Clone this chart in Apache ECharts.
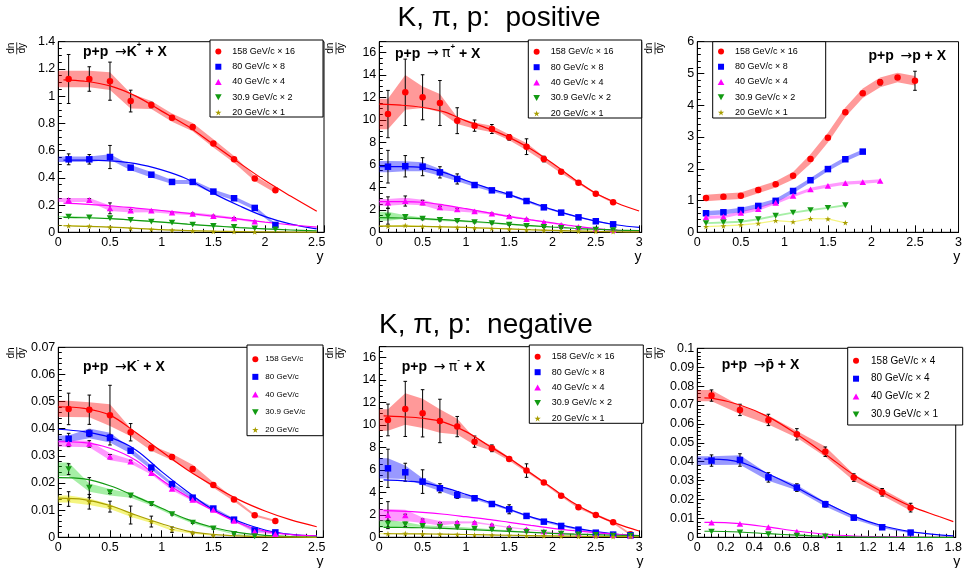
<!DOCTYPE html>
<html><head><meta charset="utf-8">
<script src="https://cdn.jsdelivr.net/npm/echarts@6/dist/echarts.min.js"></script>
<style>html,body{margin:0;padding:0;background:#fff}#c{width:965px;height:568px}</style>
</head><body><div id="c"></div><script>
// ---------- Panel 1: p+p -> K+ + X ----------
const kpX = [0.1,0.3,0.5,0.7,0.9,1.1,1.3,1.5,1.7,1.9,2.1];
const kpX10 = [0.1,0.3,0.5,0.7,0.9,1.1,1.3,1.5,1.7,1.9];
const kpFitX = [0.05,0.25,0.5,0.75,1,1.25,1.5,1.75,2,2.25,2.5];
const kp158 = [1.126,1.126,1.11,0.964,0.935,0.842,0.773,0.653,0.536,0.396,0.308];
const kp158Err = [0.18,0.09,0.14,0.08,0.02,0.015,0.015,0.012,0.01,0.01,0.01];
const kp158Band = [0.06,0.06,0.065,0.055,0.03,0.03,0.03,0.03,0.025,0.02,0.02];
const kp158Fit = [1.12,1.11,1.075,1.0,0.89,0.78,0.645,0.51,0.38,0.265,0.155];
const kp80 = [0.536,0.536,0.553,0.475,0.423,0.37,0.37,0.299,0.25,0.179,0.054];
const kp80Err = [0.04,0.035,0.085,0.01,0.01,0.01,0.01,0.005,0.005,0.005,0.005];
const kp80Band = [0.02,0.02,0.02,0.02,0.02,0.015,0.015,0.015,0.015,0.015,0.01];
const kp80Fit = [0.53,0.53,0.525,0.505,0.458,0.39,0.286,0.195,0.115,0.06,0.025];
const kp40 = [0.237,0.237,0.176,0.16,0.159,0.144,0.136,0.12,0.103,0.078];
const kp40Err = [0.01,0.01,0.04,0.008,0.005,0.005,0.005,0.005,0.005,0.005];
const kp40Band = [0.015,0.015,0.02,0.015,0.012,0.01,0.01,0.01,0.008,0.008];
const kp40Fit = [0.215,0.207,0.195,0.178,0.16,0.14,0.118,0.097,0.075,0.055,0.038];
const kp31 = [0.115,0.11,0.103,0.09,0.078,0.071,0.056,0.046,0.039,0.029,0.022];
const kp31Band = [0.004,0.004,0.004,0.004,0.004,0.004,0.004,0.004,0.004,0.004,0.004];
const kp31Fit = [0.11,0.107,0.1,0.088,0.075,0.06,0.047,0.035,0.025,0.017,0.01];
const kp20 = [0.049,0.046,0.037,0.029,0.022,0.015,0.01,0.007,0.005,0.003];
const kp20Band = [0.002,0.002,0.002,0.002,0.002,0.002,0.002,0.002,0.002,0.002];
const kp20Fit = [0.048,0.044,0.038,0.029,0.019,0.013,0.008,0.005,0.003,0.002,0.001];

// ---------- Panel 2: p+p -> pi+ + X ----------
const ppX = [0.1,0.3,0.5,0.7,0.9,1.1,1.3,1.5,1.7,1.9,2.1,2.3,2.5,2.7];
const ppFitX = [0,0.25,0.5,0.75,1,1.25,1.5,1.75,2,2.25,2.5,2.75,3];
const pp158 = [10.51,12.44,12.0,11.49,9.92,9.48,9.18,8.44,7.61,6.51,5.39,4.41,3.43,2.67];
const pp158Err = [2.1,2.95,2.0,2.0,1.15,0.5,0.4,0.25,0.7,0.25,0.1,0.1,0.1,0.1];
const pp158Band = [1.35,1.55,0.95,0.8,0.3,0.28,0.28,0.25,0.32,0.22,0.15,0.12,0.08,0.08];
const pp158Fit = [11.4,11.3,11.1,10.7,9.9,9.24,8.44,7.4,6.13,4.72,3.47,2.58,1.89];
const pp80 = [5.83,5.87,5.83,5.33,4.74,4.2,3.73,3.35,2.78,2.22,1.75,1.33,0.98,0.71];
const pp80Err = [1.45,0.95,0.8,0.5,0.45,0.15,0.1,0.1,0.1,0.1,0.05,0.05,0.05,0.05];
const pp80Band = [0.5,0.45,0.4,0.3,0.2,0.15,0.12,0.1,0.1,0.08,0.06,0.05,0.05,0.05];
const pp80Fit = [5.83,5.83,5.75,5.3,4.6,3.95,3.35,2.68,2.02,1.46,1.0,0.65,0.44];
const pp40 = [2.65,2.78,2.65,2.22,2.04,1.86,1.66,1.43,1.18,0.89,0.66,0.47,0.31,0.19];
const pp40Err = [0.5,0.45,0.2,0.1,0.1,0.05,0.05,0.05,0.05,0.05,0.05,0.05,0.05,0.05];
const pp40Band = [0.3,0.3,0.25,0.25,0.2,0.12,0.1,0.08,0.06,0.05,0.04,0.03,0.03,0.02];
const pp40Fit = [2.72,2.72,2.67,2.42,2.1,1.75,1.39,1.1,0.83,0.56,0.33,0.18,0.1];
const pp31 = [1.42,1.36,1.21,1.09,1.0,0.89,0.8,0.68,0.56,0.47,0.38,0.29,0.23,0.18];
const pp31Err = [0.7,0.2,0.1,0.08,0.05,0.05,0.05,0.05,0.05,0.05,0.05,0.05,0.05,0.05];
const pp31Band = [0.4,0.15,0.1,0.08,0.06,0.05,0.05,0.04,0.04,0.03,0.03,0.03,0.03,0.03];
const pp31Fit = [1.3,1.27,1.22,1.12,1.0,0.87,0.73,0.6,0.47,0.36,0.27,0.2,0.15];
const pp20 = [0.55,0.62,0.52,0.48,0.44,0.38,0.33,0.27,0.21,0.16,0.12,0.09,0.07,0.05];
const pp20Band = [0.05,0.05,0.04,0.04,0.03,0.03,0.03,0.02,0.02,0.02,0.02,0.02,0.02,0.02];
const pp20Fit = [0.55,0.54,0.52,0.48,0.43,0.37,0.3,0.23,0.17,0.12,0.08,0.05,0.03];

// ---------- Panel 3: p+p -> p + X ----------
const pr158X = [0.1,0.3,0.5,0.7,0.9,1.1,1.3,1.5,1.7,1.9,2.1,2.3,2.5];
const pr158 = [1.08,1.12,1.15,1.33,1.51,1.78,2.31,2.98,3.78,4.38,4.72,4.87,4.77];
const pr158Err = [0.05,0.05,0,0,0,0,0,0,0,0,0.08,0.03,0.3];
const pr158Band = [0.1,0.1,0.1,0.1,0.1,0.12,0.15,0.15,0.15,0.15,0.15,0.15,0.15];
const pr80X = [0.1,0.3,0.5,0.7,0.9,1.1,1.3,1.5,1.7,1.9];
const pr80 = [0.6,0.63,0.7,0.83,0.99,1.3,1.64,1.99,2.3,2.54];
const pr80Band = [0.07,0.07,0.07,0.07,0.07,0.07,0.07,0.07,0.07,0.07];
const pr40X = [0.1,0.3,0.5,0.7,0.9,1.1,1.3,1.5,1.7,1.9,2.1];
const pr40 = [0.47,0.49,0.61,0.73,0.93,1.15,1.35,1.46,1.55,1.58,1.62];
const pr40Band = [0.05,0.05,0.05,0.05,0.05,0.05,0.05,0.05,0.05,0.05,0.05];
const pr31X = [0.1,0.3,0.5,0.7,0.9,1.1,1.3,1.5,1.7];
const pr31 = [0.29,0.31,0.33,0.41,0.52,0.62,0.70,0.77,0.85];
const pr31Band = [0.03,0.03,0.03,0.03,0.03,0.03,0.03,0.03,0.03];
const pr20 = [0.18,0.2,0.23,0.28,0.37,0.33,0.43,0.42,0.30];
const pr20Band = [0.02,0.02,0.02,0.02,0.02,0.02,0.02,0.02,0.02];

// ---------- Panel 4: p+p -> K- + X ----------
const kmX = [0.1,0.3,0.5,0.7,0.9,1.1,1.3,1.5,1.7,1.9,2.1];
const kmFitX = [0,0.25,0.5,0.75,1,1.25,1.5,1.75,2,2.25,2.5];
const km158 = [0.0473,0.047,0.045,0.0387,0.0329,0.0296,0.0252,0.0193,0.0139,0.0081,0.006];
const km158Err = [0.0058,0.0054,0.011,0.0032,0.001,0.0008,0.0008,0.0006,0.0004,0.0003,0.0003];
const km158Band = [0.003,0.0028,0.004,0.0015,0.001,0.0012,0.0015,0.001,0.0006,0.0004,0.0004];
const km158Fit = [0.0481,0.0475,0.045,0.0386,0.0316,0.0248,0.019,0.0138,0.0097,0.0064,0.0039];
const km80 = [0.0363,0.0383,0.0367,0.0319,0.0257,0.0196,0.0146,0.0106,0.0065,0.0025,0.0018];
const km80Err = [0.002,0.0012,0.001,0.0005,0.0005,0.0004,0.0003,0.0003,0.0003,0.0003,0.0003];
const km80Band = [0.0012,0.0018,0.0018,0.001,0.0008,0.0006,0.0005,0.0005,0.0004,0.0003,0.0003];
const km80Fit = [0.0398,0.0389,0.0368,0.0322,0.0242,0.0168,0.0101,0.0058,0.0027,0.0011,0.0005];
const km40 = [0.0346,0.0344,0.0297,0.0279,0.0237,0.0179,0.0138,0.0101,0.0061,0.0021,0.0012];
const km40Err = [0.0012,0.0012,0.0008,0.0005,0.0005,0.0004,0.0003,0.0003,0.0003,0.0003,0.0003];
const km40Band = [0.0012,0.0012,0.0013,0.0008,0.0006,0.0006,0.0005,0.0004,0.0003,0.0003,0.0002];
const km40Fit = [0.0352,0.0349,0.0328,0.0284,0.0211,0.015,0.0098,0.0052,0.0023,0.001,0.0005];
const km31X = [0.1,0.3,0.5,0.7,0.9,1.1,1.3,1.5,1.7,1.9];
const km31 = [0.0251,0.0183,0.0166,0.0154,0.0123,0.0085,0.0054,0.0033,0.0012,0.0004];
const km31Err = [0.002,0.0037,0.0005,0.0005,0.0005,0.0003,0.0003,0.0003,0.0003,0.0003];
const km31Band = [0.0025,0.0015,0.0012,0.0008,0.0006,0.0004,0.0003,0.0003,0.0002,0.0002];
const km31Fit = [0.022,0.0215,0.019,0.015,0.0107,0.0066,0.0036,0.0017,0.0007,0.0003,0.0001];
const km20X = [0.1,0.3,0.5,0.7,0.9,1.1,1.3,1.5];
const km20 = [0.0141,0.0131,0.0113,0.0082,0.0058,0.0028,0.0016,0.0008];
const km20Err = [0.0027,0.0027,0.002,0.0033,0.002,0.001,0.0003,0.0002];
const km20Band = [0.0013,0.0012,0.0009,0.0006,0.0005,0.0004,0.0003,0.0002];
const km20Fit = [0.0144,0.0139,0.0117,0.0082,0.005,0.0023,0.0011,0.0005,0.0002,0.0001,0];

// ---------- Panel 5: p+p -> pi- + X ----------
const pmX = [0.1,0.3,0.5,0.7,0.9,1.1,1.3,1.5,1.7,1.9,2.1,2.3,2.5,2.7,2.9];
const pmFitX = [0.05,0.25,0.5,0.75,1,1.25,1.5,1.75,2,2.25,2.5,2.75,3];
const pm158 = [10.43,11.41,11.02,10.34,9.84,8.5,7.91,6.96,5.93,4.86,3.7,2.67,1.99,1.33,0.27];
const pm158Err = [1.41,2.45,2.1,1.93,0.9,0.5,0.3,0.1,0.6,0.1,0.1,0.1,0.1,0.1,0.1];
const pm158Band = [0.95,1.4,1.3,1.05,0.7,0.3,0.25,0.15,0.15,0.1,0.1,0.1,0.1,0.1,0.1];
const pm158Fit = [10.79,10.72,10.58,10.22,9.39,8.21,7.02,5.69,4.36,3.02,1.99,1.19,0.56];
const pm80 = [6.13,5.78,4.95,4.36,3.76,3.47,2.96,2.49,1.9,1.39,1.01,0.68,0.41,0.24,0.18];
const pm80Err = [1.7,0.8,1.05,0.4,0.3,0.1,0.1,0.4,0.1,0.05,0.05,0.05,0.05,0.05,0.05];
const pm80Band = [0.9,0.6,0.3,0.25,0.2,0.1,0.1,0.1,0.08,0.06,0.05,0.05,0.05,0.04,0.04];
const pm80Fit = [5.1,5.04,4.86,4.41,3.82,3.17,2.49,1.81,1.3,0.83,0.5,0.27,0.12];
const pm40 = [1.97,1.95,1.52,1.24,1.33,1.32,1.11,0.88,0.7,0.53,0.4,0.3,0.24,0.2,0.16];
const pm40Err = [1.2,0.1,0.1,0.08,0.05,0.05,0.05,0.05,0.05,0.05,0.05,0.05,0.05,0.05,0.05];
const pm40Band = [0.55,0.5,0.25,0.2,0.1,0.08,0.06,0.05,0.05,0.04,0.03,0.03,0.03,0.02,0.02];
const pm40Fit = [2.37,2.33,2.22,2.05,1.83,1.6,1.33,1.06,0.8,0.59,0.41,0.26,0.15];
const pm31 = [1.21,1.15,1.0,0.94,0.89,0.77,0.68,0.59,0.47,0.41,0.32,0.26,0.2,0.15,0.15];
const pm31Err = [0.3,0.2,0.05,0.05,0.05,0.05,0.05,0.05,0.05,0.05,0.05,0.05,0.05,0.05,0.05];
const pm31Band = [0.33,0.2,0.08,0.06,0.05,0.05,0.04,0.04,0.03,0.03,0.03,0.03,0.03,0.03,0.03];
const pm31Fit = [0.89,0.88,0.85,0.79,0.71,0.62,0.53,0.44,0.35,0.28,0.23,0.18,0.15];
const pm20 = [0.32,0.35,0.3,0.27,0.25,0.22,0.2,0.17,0.14,0.12,0.1,0.08,0.07,0.06,0.05];
const pm20Band = [0.04,0.04,0.03,0.03,0.03,0.02,0.02,0.02,0.02,0.02,0.02,0.02,0.02,0.02,0.02];
const pm20Fit = [0.32,0.31,0.3,0.28,0.25,0.22,0.18,0.15,0.12,0.1,0.08,0.06,0.05];

// ---------- Panel 6: p+p -> pbar + X ----------
const pbX = [0.1,0.3,0.5,0.7,0.9,1.1,1.3,1.5];
const pbX5 = [0.1,0.3,0.5,0.7,0.9];
const pbFitX = [0.05,0.1,0.3,0.5,0.7,0.9,1.1,1.3,1.5,1.7,1.8];
const pb158 = [0.075,0.0674,0.0621,0.0545,0.0453,0.0316,0.0238,0.0157];
const pb158Err = [0.003,0.003,0.003,0.003,0.0025,0.002,0.002,0.0023];
const pb158Band = [0.003,0.0022,0.0024,0.0018,0.0027,0.0017,0.0017,0.0017];
const pb158Fit = [0.0738,0.0736,0.07,0.0637,0.0545,0.044,0.033,0.024,0.0165,0.011,0.0083];
const pb80 = [0.0406,0.0409,0.0317,0.0263,0.0175,0.0104,0.0053,0.0025];
const pb80Err = [0.003,0.0033,0.0025,0.002,0.0015,0.0013,0.0005,0.0005];
const pb80Band = [0.0023,0.0025,0.0018,0.0014,0.0012,0.0008,0.0005,0.0004];
const pb80Fit = [0.0414,0.0414,0.0398,0.0335,0.0262,0.0183,0.0112,0.0061,0.003,0.0013,0.0008];
const pb40 = [0.0078,0.0071,0.0053,0.003,0.0011];
const pb40Fit = [0.0079,0.0079,0.0072,0.0054,0.0033,0.0016,0.0007,0.0003,0.0001,0,0];
const pb31 = [0.003,0.0026,0.0016,0.0009,0.0004];
const pb31Fit = [0.0032,0.0032,0.0028,0.0019,0.0011,0.0005,0.0002,0.0001,0,0,0];

// legend labels
const namesX16 = ['158 GeV/c × 16','80 GeV/c × 8','40 GeV/c × 4','30.9 GeV/c × 2','20 GeV/c × 1'];
const namesKm = ['158 GeV/c','80 GeV/c','40 GeV/c','30.9 GeV/c','20 GeV/c'];
const namesPb = ['158 GeV/c × 4','80 GeV/c × 4','40 GeV/c × 2','30.9 GeV/c × 1'];

// ---------- styles ----------
const FONT = '"Liberation Sans", Arial, sans-serif';
const STAR = 'path://M50,0 L61,35 L98,35 L68,57 L79,91 L50,70 L21,91 L32,57 L2,35 L39,35 Z';
const INV = 'path://M0,0 L10,0 L5,9 Z';
const TRI = 'path://M5,0 L10,9 L0,9 Z';
const SQ = 'path://M0,0 L10,0 L10,10 L0,10 Z';
const COL = {158:'#ff0000',80:'#0000ff',40:'#ff00ff',31:'#129a12',20:'#a89e00'};
const BAND = {158:'rgba(255,0,0,0.4)',80:'rgba(0,0,255,0.4)',40:'rgba(255,0,255,0.4)',31:'rgba(0,210,0,0.35)',20:'rgba(235,235,0,0.5)'};
const SYM = {158:'circle',80:SQ,40:TRI,31:INV,20:STAR};
const SIZE = {158:6.5,80:6.5,40:6.5,31:6.5,20:6};

const panels = [
 {grid:[58.3,41.7,265.7,190.6], x:{max:2.57,int:0.5,minor:5}, y:{max:1.4,int:0.2,minor:4}, band0:true,
  sets:[
   {k:158,name:namesX16[0],x:kpX,y:kp158,err:kp158Err,band:kp158Band,fx:kpFitX,fy:kp158Fit},
   {k:80,name:namesX16[1],x:kpX,y:kp80,err:kp80Err,band:kp80Band,fx:kpFitX,fy:kp80Fit},
   {k:40,name:namesX16[2],x:kpX10,y:kp40,err:kp40Err,band:kp40Band,fx:kpFitX,fy:kp40Fit},
   {k:31,name:namesX16[3],x:kpX,y:kp31,band:kp31Band,fx:kpFitX,fy:kp31Fit},
   {k:20,name:namesX16[4],x:kpX10,y:kp20,band:kp20Band,fx:kpFitX,fy:kp20Fit}],
  legend:{box:[210,40,113,77],names:namesX16,padTop:6,gap:4.25,iw:18,padL:5,fs:9}},
 {grid:[379.3,41.7,262.4,190.6], x:{max:3.03,int:0.5,minor:5}, y:{max:16.94,int:2,minor:4}, band0:true,
  sets:[
   {k:158,name:namesX16[0],x:ppX,y:pp158,err:pp158Err,band:pp158Band,fx:ppFitX,fy:pp158Fit},
   {k:80,name:namesX16[1],x:ppX,y:pp80,err:pp80Err,band:pp80Band,fx:ppFitX,fy:pp80Fit},
   {k:40,name:namesX16[2],x:ppX,y:pp40,err:pp40Err,band:pp40Band,fx:ppFitX,fy:pp40Fit},
   {k:31,name:namesX16[3],x:ppX,y:pp31,err:pp31Err,band:pp31Band,fx:ppFitX,fy:pp31Fit},
   {k:20,name:namesX16[4],x:ppX,y:pp20,band:pp20Band,fx:ppFitX,fy:pp20Fit}],
  legend:{box:[528.3,40,113.4,78],names:namesX16,padTop:6.3,gap:4.4,iw:18,padL:5,fs:9}},
 {grid:[697.3,41.7,262.7,190.6], x:{max:3,int:0.5,minor:5}, y:{max:6,int:1,minor:5}, band0:false,
  sets:[
   {k:158,name:namesX16[0],x:pr158X,y:pr158,err:pr158Err,band:pr158Band},
   {k:80,name:namesX16[1],x:pr80X,y:pr80,band:pr80Band},
   {k:40,name:namesX16[2],x:pr40X,y:pr40,band:pr40Band},
   {k:31,name:namesX16[3],x:pr31X,y:pr31,band:pr31Band},
   {k:20,name:namesX16[4],x:pr31X,y:pr20,band:pr20Band}],
  legend:{box:[712.7,41.7,113,76.3],names:namesX16,padTop:4.3,gap:4.25,iw:18,padL:5,fs:9}},
 {grid:[58.3,347.3,265,190], x:{max:2.564,int:0.5,minor:5}, y:{max:0.07,int:0.01,minor:5}, band0:true,
  sets:[
   {k:158,name:namesKm[0],x:kmX,y:km158,err:km158Err,band:km158Band,fx:kmFitX,fy:km158Fit},
   {k:80,name:namesKm[1],x:kmX,y:km80,err:km80Err,band:km80Band,fx:kmFitX,fy:km80Fit},
   {k:40,name:namesKm[2],x:kmX,y:km40,err:km40Err,band:km40Band,fx:kmFitX,fy:km40Fit},
   {k:31,name:namesKm[3],x:km31X,y:km31,err:km31Err,band:km31Band,fx:kmFitX,fy:km31Fit},
   {k:20,name:namesKm[4],x:km20X,y:km20,err:km20Err,band:km20Band,fx:kmFitX,fy:km20Fit}],
  legend:{box:[247,345,76,90.7],names:namesKm,padTop:8.7,gap:6.65,iw:10,padL:5,fs:8}},
 {grid:[379.3,346.7,262.4,190.6], x:{max:3.03,int:0.5,minor:5}, y:{max:16.94,int:2,minor:4}, band0:true,
  sets:[
   {k:158,name:namesX16[0],x:pmX,y:pm158,err:pm158Err,band:pm158Band,fx:pmFitX,fy:pm158Fit},
   {k:80,name:namesX16[1],x:pmX,y:pm80,err:pm80Err,band:pm80Band,fx:pmFitX,fy:pm80Fit},
   {k:40,name:namesX16[2],x:pmX,y:pm40,err:pm40Err,band:pm40Band,fx:pmFitX,fy:pm40Fit},
   {k:31,name:namesX16[3],x:pmX,y:pm31,err:pm31Err,band:pm31Band,fx:pmFitX,fy:pm31Fit},
   {k:20,name:namesX16[4],x:pmX,y:pm20,band:pm20Band,fx:pmFitX,fy:pm20Fit}],
  legend:{box:[529.3,345,114,78.3],names:namesX16,padTop:6.3,gap:4.4,iw:18,padL:5,fs:9}},
 {grid:[697.3,348.3,263.4,189], x:{max:1.817,int:0.2,minor:4}, y:{max:0.1,int:0.01,minor:5}, band0:true,
  sets:[
   {k:158,name:namesPb[0],x:pbX,y:pb158,err:pb158Err,band:pb158Band,fx:pbFitX,fy:pb158Fit},
   {k:80,name:namesPb[1],x:pbX,y:pb80,err:pb80Err,band:pb80Band,fx:pbFitX,fy:pb80Fit},
   {k:40,name:namesPb[2],x:pbX5,y:pb40,fx:pbFitX,fy:pb40Fit},
   {k:31,name:namesPb[3],x:pbX5,y:pb31,fx:pbFitX,fy:pb31Fit}],
  legend:{box:[847.7,347.3,115,77.7],names:namesPb,padTop:8,gap:6.9,iw:20,padL:5,fs:10}}
];

function fmt(v, int){ const r = v/int; return Math.abs(r-Math.round(r))<1e-6 ? String(+v.toFixed(6)) : ''; }
function axisCfg(i, a, isX){
  return {type:'value', gridIndex:i, min:0, max:a.max, interval:a.int,
    axisLine:{show:true,onZero:false,lineStyle:{color:'#000',width:1}},
    axisTick:{show:true,inside:true,length:7,lineStyle:{color:'#000',width:1}},
    minorTick:{show:true,splitNumber:a.minor,length:3.5,lineStyle:{color:'#000',width:1}},
    splitLine:{show:false}, minorSplitLine:{show:false},
    axisLabel:{color:'#000',fontSize:12.5,fontFamily:FONT,margin:isX?4:3,hideOverlap:false,
      formatter:v=>fmt(v,a.int)}};
}

const grids=[], xAxes=[], yAxes=[], legends=[], series=[], graphics=[];
panels.forEach((p,i)=>{
  grids.push({left:p.grid[0],top:p.grid[1],width:p.grid[2],height:p.grid[3],show:true,borderColor:'#000',borderWidth:1,backgroundColor:'transparent',containLabel:false});
  xAxes.push(axisCfg(i,p.x,true));
  yAxes.push(axisCfg(i,p.y,false));
  p.sets.forEach(s=>{
    const c = COL[s.k];
    if (s.band){
      const xs = s.x.slice(), lo = s.y.map((v,j)=>v-s.band[j]), hi = s.y.map((v,j)=>v+s.band[j]);
      if (p.band0){ xs.unshift(0); lo.unshift(lo[0]); hi.unshift(hi[0]); }
      series.push({type:'custom',name:'band'+i+'_'+s.k,xAxisIndex:i,yAxisIndex:i,silent:true,z:1,
        data:[[xs[0],hi[0]]],
        renderItem:(params,api)=>{
          const pts=[];
          for(let j=0;j<xs.length;j++) pts.push(api.coord([xs[j],hi[j]]));
          for(let j=xs.length-1;j>=0;j--) pts.push(api.coord([xs[j],Math.max(lo[j],0)]));
          return {type:'polygon',shape:{points:pts},style:{fill:BAND[s.k],stroke:null}};
        }});
    }
    if (s.fx){
      series.push({type:'line',name:'fit'+i+'_'+s.k,xAxisIndex:i,yAxisIndex:i,silent:true,z:2,
        data:s.fx.map((x,j)=>[x,s.fy[j]]),smooth:0.35,symbol:'none',showSymbol:false,
        lineStyle:{color:c,width:1.2},itemStyle:{color:c},animation:false});
    }
    if (s.err){
      series.push({type:'custom',name:'err'+i+'_'+s.k,xAxisIndex:i,yAxisIndex:i,silent:true,z:2,
        data:s.x.map((x,j)=>[x,s.y[j],s.err[j]]),encode:{x:0,y:1},
        renderItem:(params,api)=>{
          const x=api.value(0), y=api.value(1), e=api.value(2);
          if(!e) return null;
          const t=api.coord([x,y+e]), b=api.coord([x,Math.max(y-e,0)]);
          const st={stroke:'#000',lineWidth:1};
          return {type:'group',children:[
            {type:'line',shape:{x1:t[0],y1:t[1],x2:b[0],y2:b[1]},style:st},
            {type:'line',shape:{x1:t[0]-1.8,y1:t[1],x2:t[0]+1.8,y2:t[1]},style:st},
            {type:'line',shape:{x1:b[0]-1.8,y1:b[1],x2:b[0]+1.8,y2:b[1]},style:st}]};
        }});
    }
    series.push({type:'scatter',name:s.name,xAxisIndex:i,yAxisIndex:i,z:3,
      data:s.x.map((x,j)=>[x,s.y[j]]),symbol:SYM[s.k],symbolSize:SIZE[s.k],symbolKeepAspect:true,
      itemStyle:{color:c,opacity:1},animation:false});
  });
  const L = p.legend;
  graphics.push({type:'rect',z:4,shape:{x:L.box[0],y:L.box[1],width:L.box[2],height:L.box[3]},style:{fill:'#fff',stroke:'#000',lineWidth:1}});
  legends.push({show:true,z:5,orient:'vertical',left:L.box[0],top:L.box[1],padding:[L.padTop,0,0,L.padL],
    itemGap:L.gap,itemWidth:L.iw,itemHeight:6,data:L.names,selectedMode:false,symbolKeepAspect:true,
    textStyle:{fontSize:L.fs,fontFamily:FONT,color:'#000',lineHeight:11}});
});

// texts
const titleRich = {
  b:{fontWeight:'bold',fontSize:14,fontFamily:FONT,lineHeight:18,verticalAlign:'bottom'},
  a:{fontSize:14,fontFamily:'"DejaVu Sans", sans-serif',lineHeight:18,verticalAlign:'bottom'},
  s:{fontWeight:'bold',fontSize:8,fontFamily:FONT,lineHeight:10,verticalAlign:'top'}
};
const ptitles = [
  {x:83,y:50,t:'{b|p+p}  {a|→}{b|K}{s|+}{b| + X}',align:'left'},
  {x:395,y:51.7,t:'{b|p+p}  {a|→} {a|π}{s|+}{b| + X}',align:'left'},
  {x:946,y:54,t:'{b|p+p}  {a|→}{b|p + X}',align:'right'},
  {x:83,y:365,t:'{b|p+p}  {a|→}{b|K}{s|-}{b| + X}',align:'left'},
  {x:401.7,y:365,t:'{b|p+p}  {a|→} {a|π}{s|-}{b| + X}',align:'left'},
  {x:721.7,y:363.3,t:'{b|p+p}  {a|→}{b|p̄ + X}',align:'left'}
];
ptitles.forEach(o=>graphics.push({type:'text',z:6,x:o.x,y:o.y,style:{text:o.t,rich:titleRich,align:o.align,verticalAlign:'middle',fill:'#000'}}));
graphics.push({type:'text',z:6,x:499,y:18,style:{text:'K, π, p:  positive',fontSize:28,fontFamily:FONT,fill:'#000',align:'center',verticalAlign:'middle'}});
graphics.push({type:'text',z:6,x:486,y:325,style:{text:'K, π, p:  negative',fontSize:28,fontFamily:FONT,fill:'#000',align:'center',verticalAlign:'middle'}});
[[320,256.7],[638,256.7],[956.7,256.7],[320,562],[640,562],[956.7,562]].forEach(q=>
  graphics.push({type:'text',z:6,x:q[0],y:q[1],style:{text:'y',fontSize:14,fontFamily:FONT,fill:'#000',align:'center',verticalAlign:'middle'}}));
[[16.7,48.3],[336,48.3],[655,48.3],[16.7,353],[336,353],[655,353]].forEach(q=>
  graphics.push({type:'group',z:6,x:q[0],y:q[1],rotation:Math.PI/2,children:[
    {type:'text',style:{text:'dn',x:0,y:-0.5,fontSize:10,fontFamily:FONT,fill:'#000',align:'center',verticalAlign:'bottom'}},
    {type:'line',shape:{x1:-6,y1:0,x2:6,y2:0},style:{stroke:'#000',lineWidth:0.8}},
    {type:'text',style:{text:'dy',x:0,y:0.5,fontSize:10,fontFamily:FONT,fill:'#000',align:'center',verticalAlign:'top'}}]}));

const chart = echarts.init(document.getElementById('c'),null,{renderer:'canvas'});
chart.setOption({animation:false,backgroundColor:'#fff',grid:grids,xAxis:xAxes,yAxis:yAxes,legend:legends,series:series,graphic:{elements:graphics}});
</script></body></html>
